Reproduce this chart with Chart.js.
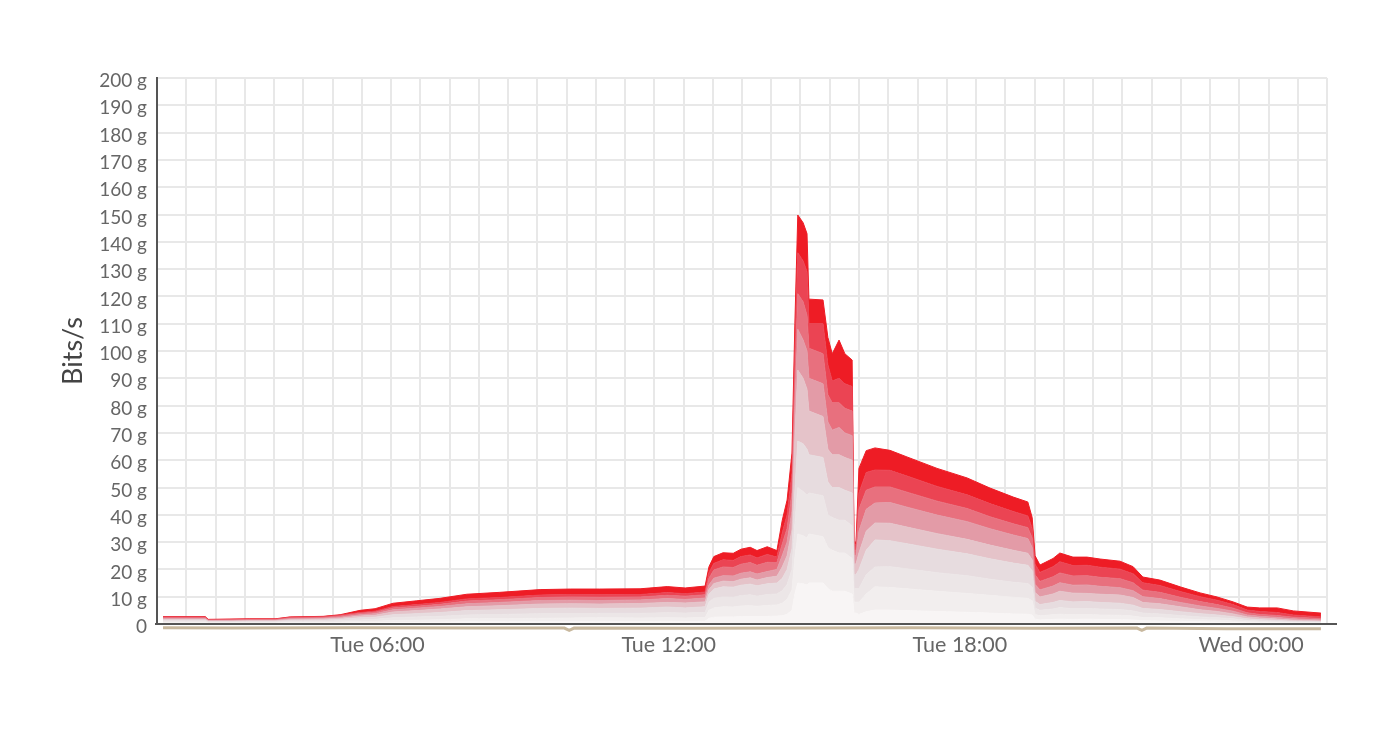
<!DOCTYPE html>
<html>
<head>
<meta charset="utf-8">
<script src="https://cdn.jsdelivr.net/npm/chart.js@4.4.1/dist/chart.umd.min.js"></script>
<style>
  html, body { margin: 0; padding: 0; background: #fff; }
</style>
</head>
<body>
<canvas id="trafficChart" width="1377" height="732"></canvas>
<script>
// hours since Tue 00:00
const times = [1.58, 2.45, 2.51, 2.96, 3.37, 3.89, 4.20, 4.88, 5.23, 5.64, 5.95, 6.32, 6.81, 7.29, 7.84, 8.52, 9.35, 9.97, 10.58, 11.41, 11.97, 12.34, 12.75, 12.83, 12.93, 13.12, 13.33, 13.49, 13.68, 13.82, 14.03, 14.23, 14.34, 14.44, 14.54, 14.60, 14.66, 14.77, 14.85, 14.89, 15.18, 15.28, 15.37, 15.51, 15.63, 15.78, 15.82, 15.86, 15.92, 16.07, 16.25, 16.56, 16.91, 17.53, 18.15, 18.62, 19.10, 19.40, 19.49, 19.55, 19.65, 19.92, 20.06, 20.33, 20.62, 20.89, 21.30, 21.57, 21.77, 22.12, 22.54, 22.95, 23.30, 23.63, 23.92, 24.18, 24.54, 24.87, 25.44];

// cumulative band edges, bottom (band1) to top (total), in g bits/s
const band1 = [0.3, 0.3, 0.2, 0.2, 0.2, 0.2, 0.3, 0.3, 0.3, 0.4, 0.4, 0.5, 0.6, 0.7, 0.8, 0.8, 0.9, 0.9, 1.0, 0.9, 1.0, 0.9, 1.0, 2.1, 2.5, 2.6, 2.6, 2.7, 2.8, 2.7, 2.8, 2.9, 3.0, 3.6, 5.0, 11, 15, 14.7, 14.3, 15, 15, 13, 12, 12, 12, 11, 4, 4, 3.5, 4.5, 5.1, 5.1, 4.9, 4.6, 4.3, 4.0, 3.7, 3.6, 3.3, 1.8, 1.5, 1.7, 1.8, 1.7, 1.8, 1.7, 1.6, 1.5, 1.2, 1.1, 1.0, 0.8, 0.7, 0.6, 0.4, 0.3, 0.3, 0.2, 0.2];
const band2 = [0.6, 0.6, 0.4, 0.4, 0.4, 0.4, 0.6, 0.6, 0.7, 0.9, 1.0, 1.3, 1.4, 1.6, 1.9, 2.0, 2.1, 2.2, 2.3, 2.2, 2.3, 2.2, 2.4, 5.0, 5.9, 6.3, 6.2, 6.6, 6.7, 6.5, 6.8, 7.0, 7.6, 9.1, 12.5, 24.2, 33, 32.3, 31.5, 33, 32, 28, 27, 26, 26, 24, 8, 8, 8, 11, 13.6, 13.4, 12.9, 12, 11.2, 10.5, 9.8, 9.4, 8.5, 3.5, 3.0, 3.4, 3.6, 3.4, 3.5, 3.3, 3.2, 2.9, 2.4, 2.3, 1.9, 1.6, 1.4, 1.1, 0.8, 0.7, 0.6, 0.5, 0.4];
const band3 = [1.0, 1.0, 0.6, 0.6, 0.7, 0.7, 0.9, 1.0, 1.2, 1.5, 1.7, 2.3, 2.6, 2.8, 3.3, 3.5, 3.8, 3.8, 3.9, 3.9, 4.1, 4.0, 4.2, 8.0, 9.4, 9.9, 9.8, 10.4, 10.7, 10.2, 10.8, 11.0, 12.2, 14.5, 20.0, 36.3, 50, 48.5, 47.2, 48, 47, 40, 39, 38, 38, 36, 13, 13, 13, 18, 20.9, 21, 20.2, 18.8, 17.7, 16.4, 15.3, 14.8, 13.5, 5.8, 5.0, 5.5, 6.0, 5.6, 5.7, 5.5, 5.3, 4.8, 4.0, 3.7, 3.1, 2.6, 2.3, 1.9, 1.3, 1.1, 0.9, 0.7, 0.6];
const band4 = [1.4, 1.4, 0.9, 0.9, 1.0, 1.0, 1.3, 1.4, 1.7, 2.3, 2.5, 3.4, 3.8, 4.2, 4.9, 5.2, 5.7, 5.8, 5.7, 5.8, 6.2, 5.9, 6.3, 10.9, 12.8, 13.6, 13.5, 14.2, 14.6, 14.0, 14.7, 15.0, 16.7, 20.0, 27.5, 48.4, 67, 66, 64, 62, 61, 52, 50, 50, 49, 48, 18, 18, 20, 27, 30.8, 30.5, 29.4, 27.4, 25.7, 23.9, 22.3, 21.5, 19.5, 8.3, 7.1, 7.9, 8.6, 8.1, 8.2, 7.9, 7.6, 6.9, 5.7, 5.3, 4.5, 3.8, 3.3, 2.7, 1.9, 1.6, 1.3, 1.0, 0.8];
const band5 = [1.7, 1.7, 1.1, 1.1, 1.2, 1.2, 1.6, 1.8, 2.1, 2.9, 3.2, 4.4, 4.9, 5.5, 6.3, 6.7, 7.3, 7.4, 7.3, 7.5, 7.9, 7.7, 8.1, 12.6, 14.8, 15.7, 15.5, 16.4, 16.9, 16.1, 17.0, 17.5, 20.9, 25.0, 34.4, 68, 93, 90, 86, 78, 76, 64, 62, 62, 61, 60, 22, 22, 26, 34, 37, 36.9, 35.5, 33.1, 31, 28.9, 27, 25.9, 23.5, 11.5, 9.9, 11.0, 12.0, 11.3, 11.2, 10.9, 10.6, 9.7, 7.9, 7.4, 6.3, 5.2, 4.6, 3.7, 2.6, 2.2, 1.8, 1.4, 1.1];
const band6 = [2.0, 2.0, 1.3, 1.3, 1.4, 1.4, 1.9, 2.1, 2.5, 3.4, 3.8, 5.2, 5.8, 6.4, 7.4, 7.9, 8.6, 8.7, 8.6, 8.8, 9.3, 9.0, 9.5, 14.3, 16.8, 17.7, 17.6, 18.6, 19.1, 18.3, 19.2, 20.0, 25.1, 30.0, 41.3, 79, 108, 104, 100, 90, 88, 74, 71, 72, 70, 69, 25, 25, 34, 42, 44.3, 44.5, 42.8, 39.9, 37.5, 34.9, 32.6, 31.3, 28, 14.5, 12.5, 13.9, 15.1, 14.2, 14.3, 13.8, 13.3, 12.2, 10.0, 9.3, 7.9, 6.6, 5.7, 4.7, 3.3, 2.8, 2.4, 1.9, 1.5];
const band7 = [2.3, 2.3, 1.4, 1.5, 1.6, 1.6, 2.2, 2.4, 2.9, 3.9, 4.3, 5.9, 6.5, 7.2, 8.4, 8.9, 9.7, 9.9, 9.8, 9.9, 10.5, 10.2, 10.7, 16.8, 19.8, 20.9, 20.7, 21.9, 22.5, 21.5, 22.6, 22.5, 29.3, 35.0, 48.2, 89, 121, 118, 113, 101, 99, 84, 81, 81, 79, 78, 27, 27, 42, 49, 50.2, 50.2, 48.3, 45, 42.3, 39.3, 36.7, 35.3, 31.5, 18, 15.6, 17.3, 18.7, 17.6, 17.7, 17.1, 16.6, 15.1, 12.4, 11.6, 9.8, 8.2, 7.1, 5.8, 4.1, 3.5, 3.1, 2.5, 2.0];
const band8 = [2.6, 2.6, 1.6, 1.7, 1.8, 1.8, 2.5, 2.7, 3.2, 4.2, 4.7, 6.4, 7.1, 7.9, 9.2, 9.7, 10.6, 10.8, 10.7, 10.8, 11.5, 11.1, 11.7, 18.9, 22.2, 23.5, 23.3, 24.7, 25.3, 24.2, 25.5, 24.5, 33.4, 40.0, 55.1, 100, 136, 133, 129, 110, 110, 95, 89, 90, 88, 87, 29, 29, 48, 55.5, 56.4, 56.3, 54.2, 50.4, 47.3, 44.1, 41.2, 39.6, 35, 21.9, 18.9, 21.0, 22.8, 21.4, 21.5, 20.8, 20.1, 18.4, 15.1, 14.1, 11.9, 10.0, 8.7, 7.1, 5.1, 4.6, 4.2, 3.3, 2.6];
const total = [2.7, 2.7, 1.7, 1.8, 1.9, 1.9, 2.6, 2.8, 3.4, 5.0, 5.6, 7.6, 8.5, 9.4, 10.9, 11.6, 12.6, 12.8, 12.8, 12.9, 13.7, 13.2, 13.9, 21.0, 24.7, 26.1, 25.9, 27.4, 28.1, 26.9, 28.3, 26.9, 38, 45.4, 62.6, 110, 149.8, 147, 143, 119, 118.7, 105, 99, 104, 99, 96.7, 30, 30, 57, 63.5, 64.5, 63.6, 61.2, 57, 53.5, 49.8, 46.5, 44.7, 39, 25, 21.6, 24, 26, 24.5, 24.5, 23.8, 23, 21, 17.2, 16.1, 13.6, 11.4, 9.9, 8.1, 6.2, 5.9, 5.9, 4.8, 4.0];

// small outbound trace under the axis
const outTimes = [1.58, 3.0, 5.5, 8.0, 9.85, 9.95, 10.05, 12.5, 15.0, 17.0, 19.5, 21.65, 21.75, 21.85, 23.5, 25.44];
const outbound = [-1.4, -1.5, -1.4, -1.5, -1.5, -2.3, -1.5, -1.6, -1.5, -1.4, -1.6, -1.5, -2.3, -1.5, -1.7, -1.7];

const bandColors = ['#f8f5f5', '#f2eeee', '#ece6e7', '#e7dcdf', '#e5c3c9', '#e39ba7', '#e8707e', '#eb4453', '#ee1c25'];
const tickHours = [6, 12, 18, 24];
const tickLabels = ['Tue 06:00', 'Tue 12:00', 'Tue 18:00', 'Wed 00:00'];
const xMin = 1.456;
const xMax = 25.565;
const gridCount = 40;

function toPoints(xs, ys) {
    return xs.map((x, i) => ({ x: x, y: ys[i] }));
}

function labelIndex(value) {
    return tickHours.findIndex(h => Math.abs(h - value) < 1e-6);
}

const bands = [band1, band2, band3, band4, band5, band6, band7, band8, total];
const datasets = bands.map((band, i) => ({
    data: toPoints(times, band),
    backgroundColor: bandColors[i],
    borderColor: bandColors[i],
    borderWidth: 1,
    fill: i === 0 ? 'origin' : '-1',
    pointRadius: 0,
    tension: 0
}));

datasets.push({
    data: toPoints(outTimes, outbound),
    borderColor: '#c8b89e',
    borderWidth: 3,
    fill: false,
    pointRadius: 0,
    tension: 0,
    clip: false
});

const axisLine = {
    id: 'axisLine',
    afterDatasetsDraw(chart) {
        const { ctx, chartArea } = chart;
        ctx.save();
        ctx.strokeStyle = '#555555';
        ctx.lineWidth = 2;
        ctx.beginPath();
        ctx.moveTo(chartArea.left - 2, chartArea.bottom);
        ctx.lineTo(chartArea.right + 10, chartArea.bottom);
        ctx.stroke();
        ctx.restore();
    }
};

new Chart(document.getElementById('trafficChart').getContext('2d'), {
    type: 'line',
    data: { datasets: datasets },
    plugins: [axisLine],
    options: {
        responsive: false,
        animation: false,
        layout: { padding: { top: 78, right: 50, bottom: 0, left: 0 } },
        plugins: {
            legend: { display: false },
            tooltip: { enabled: false }
        },
        scales: {
            x: {
                type: 'linear',
                min: xMin,
                max: xMax,
                afterBuildTicks: axis => {
                    const ticks = [];
                    for (let i = 0; i <= gridCount; i++) {
                        ticks.push({ value: xMin + (xMax - xMin) * i / gridCount });
                    }
                    tickHours.forEach(h => ticks.push({ value: h }));
                    ticks.sort((a, b) => a.value - b.value);
                    axis.ticks = ticks;
                },
                afterFit: axis => { axis.height = 108; },
                grid: {
                    color: ctx => (ctx.tick && labelIndex(ctx.tick.value) >= 0) ? 'rgba(0,0,0,0)' : '#e8e8e8',
                    lineWidth: 2,
                    drawTicks: false
                },
                border: { color: '#555555', width: 2 },
                ticks: {
                    autoSkip: false,
                    maxRotation: 0,
                    padding: 8,
                    color: '#666666',
                    font: { family: 'Lato', size: 21.5 },
                    callback: value => {
                        const i = labelIndex(value);
                        return i >= 0 ? tickLabels[i] : '';
                    }
                }
            },
            y: {
                min: 0,
                max: 200,
                afterFit: axis => { axis.width = 157; },
                grid: { color: '#e8e8e8', lineWidth: 2, drawTicks: false },
                border: { color: '#555555', width: 2 },
                ticks: {
                    stepSize: 10,
                    padding: 10,
                    labelOffset: 3,
                    color: '#666666',
                    font: { family: 'Lato', size: 19 },
                    callback: value => value === 0 ? '0' : value + ' g'
                },
                title: {
                    display: true,
                    text: 'Bits/s',
                    color: '#444444',
                    font: { family: 'Lato', size: 27 },
                    padding: { top: 57, bottom: 0 }
                }
            }
        }
    }
});
</script>
</body>
</html>
